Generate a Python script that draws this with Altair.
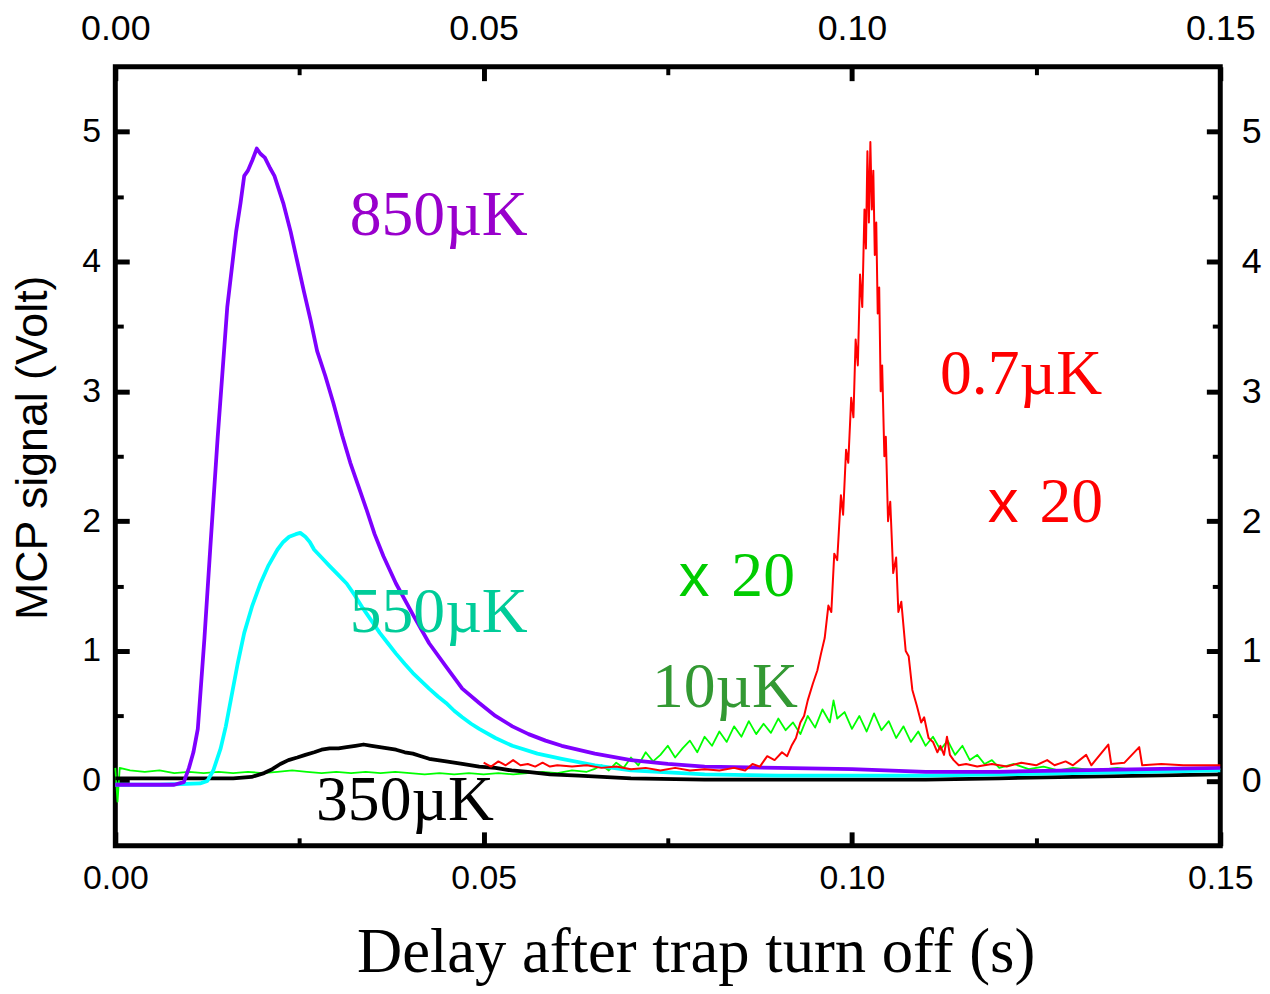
import altair as alt
import pandas as pd

# ---------------- data ----------------
# (delay in s, MCP signal in V)
curve_850uK = [
    (0.0, -0.03), (0.004, -0.03), (0.008, -0.03), (0.0093, -0.01), (0.0100, 0.10),
    (0.0106, 0.22), (0.0112, 0.40), (0.0121, 1.10), (0.0129, 1.80), (0.0139, 2.65),
    (0.0152, 3.65), (0.0164, 4.23), (0.0170, 4.45), (0.0175, 4.66), (0.0180, 4.70),
    (0.0186, 4.78), (0.0192, 4.87), (0.0197, 4.83), (0.0203, 4.80), (0.0210, 4.72),
    (0.0216, 4.66), (0.0228, 4.45), (0.0238, 4.23), (0.0247, 4.00), (0.0256, 3.77),
    (0.0265, 3.55), (0.0274, 3.31), (0.0285, 3.12), (0.0296, 2.91), (0.0308, 2.66),
    (0.0319, 2.45), (0.0330, 2.27), (0.0341, 2.09), (0.0352, 1.90), (0.0364, 1.73),
    (0.0381, 1.52), (0.0404, 1.28), (0.0426, 1.06), (0.0449, 0.88), (0.0471, 0.71),
    (0.0494, 0.60), (0.0516, 0.50), (0.0539, 0.42), (0.0561, 0.36), (0.0584, 0.31),
    (0.0606, 0.27), (0.0651, 0.21), (0.070, 0.16), (0.075, 0.13), (0.080, 0.11),
    (0.090, 0.10), (0.100, 0.09), (0.110, 0.07), (0.120, 0.07), (0.130, 0.08),
    (0.140, 0.09), (0.150, 0.10),
]

curve_550uK = [
    (0.0, -0.03), (0.006, -0.03), (0.0115, -0.02), (0.0125, 0.0), (0.0133, 0.08),
    (0.0143, 0.25), (0.0150, 0.42), (0.0157, 0.63), (0.0166, 0.90), (0.0175, 1.14),
    (0.0186, 1.35), (0.0197, 1.52), (0.0208, 1.66), (0.0220, 1.78), (0.0228, 1.84),
    (0.0236, 1.88), (0.0245, 1.90), (0.0251, 1.91), (0.0258, 1.88), (0.0264, 1.84),
    (0.0270, 1.78), (0.0280, 1.72), (0.0290, 1.66), (0.0302, 1.59), (0.0314, 1.52),
    (0.0325, 1.43), (0.0336, 1.33), (0.0347, 1.24), (0.0359, 1.14), (0.0370, 1.06),
    (0.0381, 0.98), (0.0393, 0.90), (0.0404, 0.83), (0.0415, 0.77), (0.0426, 0.71),
    (0.0438, 0.65), (0.0449, 0.60), (0.0460, 0.54), (0.0471, 0.49), (0.0483, 0.44),
    (0.0494, 0.40), (0.0516, 0.33), (0.0539, 0.27), (0.0573, 0.21), (0.0606, 0.17),
    (0.0651, 0.12), (0.070, 0.08), (0.080, 0.05), (0.090, 0.04), (0.100, 0.04),
    (0.110, 0.04), (0.120, 0.05), (0.130, 0.06), (0.140, 0.07), (0.150, 0.08),
]

curve_350uK = [
    (0.0, 0.02), (0.010, 0.02), (0.016, 0.02), (0.0185, 0.03), (0.0202, 0.06),
    (0.0213, 0.09), (0.0224, 0.13), (0.0235, 0.16), (0.0247, 0.18), (0.0258, 0.20),
    (0.0270, 0.22), (0.0280, 0.24), (0.0291, 0.25), (0.0303, 0.25), (0.0314, 0.26),
    (0.0326, 0.27), (0.0337, 0.28), (0.0348, 0.27), (0.0359, 0.26), (0.0370, 0.25),
    (0.0381, 0.24), (0.0393, 0.22), (0.0404, 0.21), (0.0415, 0.19), (0.0426, 0.17),
    (0.0449, 0.15), (0.0471, 0.13), (0.0494, 0.11), (0.0516, 0.10), (0.0538, 0.08),
    (0.0560, 0.07), (0.0590, 0.05), (0.0629, 0.04), (0.070, 0.02), (0.080, 0.01),
    (0.090, 0.01), (0.100, 0.01), (0.110, 0.01), (0.120, 0.02), (0.130, 0.03),
    (0.140, 0.04), (0.150, 0.05),
]

curve_10uK_x20 = [
    (0.0, 0.10), (0.0003, -0.16), (0.0006, 0.10), (0.002, 0.08), (0.004, 0.07),
    (0.006, 0.08), (0.008, 0.06), (0.010, 0.07), (0.012, 0.06), (0.014, 0.07),
    (0.016, 0.06), (0.018, 0.07), (0.020, 0.06), (0.022, 0.07), (0.024, 0.08),
    (0.026, 0.07), (0.028, 0.06), (0.030, 0.07), (0.032, 0.06), (0.034, 0.07),
    (0.036, 0.06), (0.038, 0.07), (0.040, 0.06), (0.042, 0.05), (0.044, 0.06),
    (0.046, 0.05), (0.048, 0.06), (0.050, 0.05), (0.052, 0.06), (0.054, 0.05),
    (0.056, 0.06), (0.058, 0.07), (0.060, 0.06), (0.062, 0.08), (0.064, 0.07),
    (0.065, 0.09), (0.066, 0.12), (0.067, 0.08), (0.068, 0.14), (0.069, 0.10),
    (0.070, 0.18), (0.071, 0.12), (0.072, 0.22), (0.073, 0.15), (0.074, 0.20),
    (0.075, 0.27), (0.076, 0.18), (0.077, 0.25), (0.078, 0.31), (0.079, 0.22),
    (0.080, 0.34), (0.081, 0.27), (0.082, 0.38), (0.083, 0.30), (0.084, 0.42),
    (0.085, 0.34), (0.086, 0.46), (0.087, 0.36), (0.088, 0.44), (0.089, 0.37),
    (0.090, 0.48), (0.091, 0.39), (0.092, 0.45), (0.093, 0.36), (0.094, 0.50),
    (0.095, 0.41), (0.096, 0.55), (0.097, 0.45), (0.0975, 0.62), (0.098, 0.48),
    (0.099, 0.53), (0.100, 0.40), (0.101, 0.50), (0.102, 0.38), (0.103, 0.52),
    (0.104, 0.39), (0.105, 0.46), (0.106, 0.33), (0.107, 0.42), (0.108, 0.30),
    (0.109, 0.38), (0.110, 0.27), (0.111, 0.34), (0.112, 0.24), (0.113, 0.31),
    (0.114, 0.20), (0.115, 0.27), (0.116, 0.16), (0.117, 0.20), (0.118, 0.13),
    (0.119, 0.16), (0.120, 0.10), (0.122, 0.13), (0.124, 0.09), (0.126, 0.11),
    (0.128, 0.08), (0.130, 0.10), (0.133, 0.08), (0.136, 0.10), (0.139, 0.08),
    (0.142, 0.09), (0.145, 0.08), (0.148, 0.09), (0.150, 0.09),
]

curve_07uK_x20 = [
    (0.0500, 0.14), (0.0510, 0.11), (0.0520, 0.15), (0.0530, 0.12), (0.0540, 0.16),
    (0.0550, 0.12), (0.0560, 0.13), (0.0570, 0.11), (0.0580, 0.14), (0.0590, 0.11),
    (0.0600, 0.12), (0.0620, 0.11), (0.0640, 0.12), (0.0660, 0.10), (0.0680, 0.11),
    (0.0700, 0.09), (0.0720, 0.10), (0.0740, 0.08), (0.0760, 0.10), (0.0780, 0.08),
    (0.0800, 0.09), (0.0820, 0.08), (0.0840, 0.10), (0.0855, 0.08), (0.0865, 0.13),
    (0.0875, 0.11), (0.0885, 0.19), (0.0895, 0.16), (0.0905, 0.22), (0.0912, 0.19),
    (0.0918, 0.27), (0.0924, 0.33), (0.0930, 0.45), (0.0935, 0.50), (0.0940, 0.62),
    (0.0947, 0.75), (0.0953, 0.85), (0.0958, 0.98), (0.0963, 1.10), (0.0968, 1.35),
    (0.0972, 1.30), (0.0976, 1.75), (0.0980, 1.70), (0.0985, 2.20), (0.0988, 2.05),
    (0.0992, 2.55), (0.0995, 2.45), (0.0999, 2.95), (0.1002, 2.80), (0.1005, 3.40),
    (0.1008, 3.20), (0.1011, 3.90), (0.1014, 3.65), (0.1017, 4.40), (0.1019, 4.10),
    (0.1021, 4.85), (0.1023, 4.30), (0.1025, 4.92), (0.1027, 4.40), (0.1029, 4.70),
    (0.1031, 4.05), (0.1033, 4.30), (0.1035, 3.60), (0.1037, 3.80), (0.1039, 3.00),
    (0.1041, 3.20), (0.1044, 2.50), (0.1046, 2.65), (0.1049, 2.00), (0.1052, 2.15),
    (0.1056, 1.60), (0.1060, 1.72), (0.1063, 1.30), (0.1067, 1.38), (0.1073, 1.00),
    (0.1077, 0.96), (0.1082, 0.70), (0.1088, 0.58), (0.1094, 0.45), (0.1098, 0.49),
    (0.1104, 0.33), (0.1110, 0.30), (0.1116, 0.22), (0.1120, 0.27), (0.1125, 0.20),
    (0.1129, 0.34), (0.1133, 0.20), (0.1138, 0.16), (0.1145, 0.12), (0.1155, 0.13),
    (0.1170, 0.11), (0.1190, 0.13), (0.1210, 0.11), (0.1230, 0.14), (0.1250, 0.12),
    (0.1265, 0.16), (0.1275, 0.12), (0.1290, 0.15), (0.1300, 0.12), (0.1318, 0.20),
    (0.1325, 0.12), (0.1348, 0.28), (0.1352, 0.13), (0.1370, 0.14), (0.1390, 0.26),
    (0.1394, 0.12), (0.1420, 0.13), (0.1450, 0.12), (0.1500, 0.12),
]

# annotation texts and their anchor in data coordinates
ann_key = ["t850", "t550", "t350", "t07", "t20r", "t20g", "t10"]
ann_text = ["850µK", "550µK", "350µK", "0.7µK", "20", "20", "10µK"]
ann_t = [0.03183, 0.03183, 0.02725, 0.11196, 0.12545, 0.08363, 0.07284]
ann_v = [4.207, 1.145, -0.301, 2.982, 1.995, 1.421, 0.571]
ann_color = ["#9900CC", "#00CC99", "#000000", "#FF0000", "#FF0000", "#00CC00", "#339933"]

mult_key = ["xr", "xg"]
mult_text = ["x", "x"]
mult_t = [0.11844, 0.07648]
mult_v = [1.995, 1.421]
mult_color = ["#FF0000", "#00CC00"]

x_major = [0.0, 0.05, 0.10, 0.15]
x_minor = [0.025, 0.075, 0.125]
y_major = [0, 1, 2, 3, 4, 5]
y_minor = [0.5, 1.5, 2.5, 3.5, 4.5]


def frame(pairs):
    return pd.DataFrame({"t": [p[0] for p in pairs], "v": [p[1] for p in pairs]})


XS = alt.Scale(domain=[0, 0.15], nice=False, zero=False)
YS = alt.Scale(domain=[-0.5, 5.5], nice=False, zero=False)
SANS = "Liberation Sans"
SERIF = "Liberation Serif"

common = dict(domain=False, grid=False, tickColor="black", labelColor="black",
              labelFlush=False, labelOverlap=False, title=None)

ax_bottom = alt.Axis(orient="bottom", values=x_major, format=".2f", tickSize=14, tickWidth=5,
                     offset=-14, labelFont=SANS, labelFontSize=34, labelPadding=16,
                     **{**common, "title": "Delay after trap turn off (s)"},
                     titleFont=SERIF, titleFontSize=63, titleFontWeight="normal",
                     titleColor="black", titleX=584, titleY=141, titleAlign="center",
                     titleBaseline="alphabetic")
ax_top = alt.Axis(orient="top", values=x_major, format=".2f", tickSize=14, tickWidth=5,
                  offset=-14, labelFont=SANS, labelFontSize=36, labelPadding=19, **common)
ax_bottom_minor = alt.Axis(orient="bottom", values=x_minor, tickSize=8, tickWidth=4,
                           offset=-8, labels=False, **common)
ax_top_minor = alt.Axis(orient="top", values=x_minor, tickSize=8, tickWidth=4,
                        offset=-8, labels=False, **common)

ax_left = alt.Axis(orient="left", values=y_major, format="d", tickSize=14, tickWidth=5,
                   offset=-14, labelFont=SANS, labelFontSize=34, labelPadding=15,
                   **{**common, "title": "MCP signal (Volt)"},
                   titleFont=SANS, titleFontSize=45, titleFontWeight="normal",
                   titleColor="black", titleAngle=270, titleX=-83, titleY=383,
                   titleAlign="center", titleBaseline="alphabetic")
ax_right = alt.Axis(orient="right", values=y_major, format="d", tickSize=14, tickWidth=5,
                    offset=-14, labelFont=SANS, labelFontSize=36, labelPadding=21, **common)
ax_left_minor = alt.Axis(orient="left", values=y_minor, tickSize=8, tickWidth=4,
                         offset=-8, labels=False, **common)
ax_right_minor = alt.Axis(orient="right", values=y_minor, tickSize=8, tickWidth=4,
                          offset=-8, labels=False, **common)


def line(pairs, color, width, xaxis=None, yaxis=None):
    return alt.Chart(frame(pairs)).mark_line(color=color, strokeWidth=width,
                                             strokeJoin="round").encode(
        x=alt.X("t:Q", scale=XS, axis=xaxis),
        y=alt.Y("v:Q", scale=YS, axis=yaxis),
        order="t:Q",
    )


l_green = line(curve_10uK_x20, "#00FF00", 1.8, ax_bottom_minor, ax_left_minor)
l_black = line(curve_350uK, "#000000", 3.8, ax_top_minor, ax_right_minor)
l_cyan = line(curve_550uK, "#00FFFF", 3.8, ax_top, ax_right)
l_purple = line(curve_850uK, "#7F00FF", 3.8, ax_bottom, ax_left)
l_red = line(curve_07uK_x20, "#FF0000", 2.0)

ann_df = pd.DataFrame({"key": ann_key, "label": ann_text, "t": ann_t, "v": ann_v})
serif_text = alt.Chart(ann_df).mark_text(font=SERIF, fontSize=64, align="left",
                                         baseline="alphabetic").encode(
    x=alt.X("t:Q", scale=XS, axis=None),
    y=alt.Y("v:Q", scale=YS, axis=None),
    text="label:N",
    color=alt.Color("key:N", scale=alt.Scale(domain=ann_key, range=ann_color), legend=None),
)

mult_df = pd.DataFrame({"key": mult_key, "label": mult_text, "t": mult_t, "v": mult_v})
sans_text = alt.Chart(mult_df).mark_text(font=SANS, fontSize=62, align="left",
                                         baseline="alphabetic").encode(
    x=alt.X("t:Q", scale=XS, axis=None),
    y=alt.Y("v:Q", scale=YS, axis=None),
    text="label:N",
    color=alt.Color("key:N", scale=alt.Scale(domain=mult_key, range=mult_color), legend=None),
)

chart = alt.layer(
    l_green, l_black, l_cyan, l_purple, l_red, serif_text, sans_text
).resolve_axis(
    x="independent", y="independent"
).resolve_scale(
    color="independent"
).properties(
    width=1112, height=784,
    autosize=alt.AutoSizeParams(type="none"),
    padding={"left": 108, "top": 56, "right": 42, "bottom": 140},
    background="white",
).configure_view(stroke="black", strokeWidth=5)

chart.save("out.html", embed_options={"renderer": "svg", "actions": False})
